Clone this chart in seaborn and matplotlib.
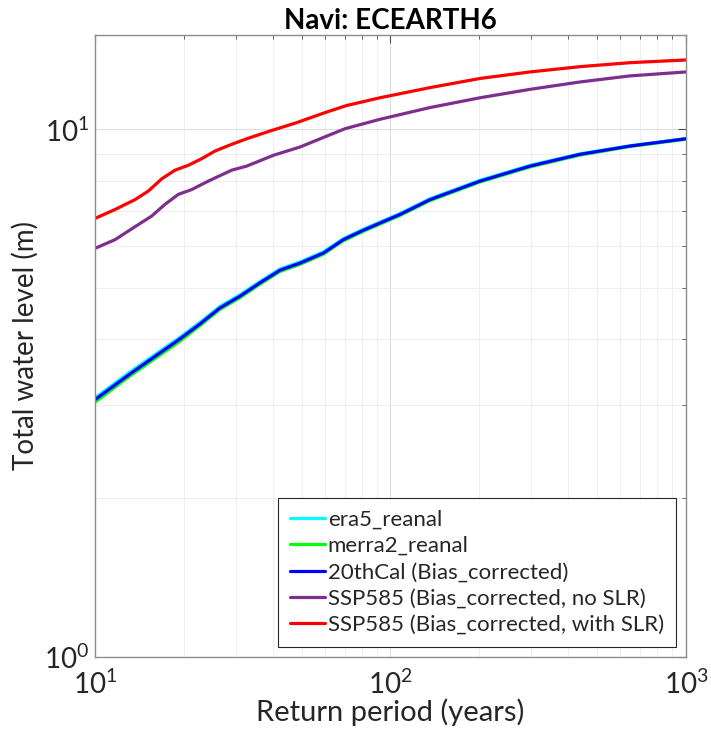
import numpy as np
import pandas as pd
import matplotlib
matplotlib.use("Agg")
import matplotlib.pyplot as plt
import seaborn as sns
from matplotlib.ticker import LogLocator, LogFormatterMathtext, NullFormatter

# ---- data ----
t_blue = [10, 13.13, 19.4, 22.67, 26.49, 30.95, 36.17, 42.27, 49.4, 59.25, 69.22, 80.9,
          97.1, 107.7, 136, 200.9, 296.6, 437.8, 646.4, 1000]
era5 = [3.10, 3.47, 4.04, 4.31, 4.62, 4.86, 5.15, 5.44, 5.61, 5.86, 6.21, 6.47,
        6.76, 6.93, 7.39, 8.01, 8.55, 8.99, 9.31, 9.61]
merra2 = [3.04, 3.41, 3.97, 4.25, 4.56, 4.80, 5.09, 5.38, 5.55, 5.80, 6.15, 6.41,
          6.70, 6.87, 7.33, 7.95, 8.49, 8.94, 9.28, 9.58]
cal20 = [3.075, 3.44, 4.01, 4.28, 4.59, 4.83, 5.12, 5.41, 5.58, 5.83, 6.18, 6.44,
         6.73, 6.90, 7.36, 7.98, 8.52, 8.97, 9.30, 9.60]

t_purple = [10, 11.69, 13.66, 15.55, 17.25, 19.14, 21.24, 24.18, 29.01, 32.62, 40.12,
            49.4, 60.83, 70.15, 92.1, 136, 200.9, 296.6, 437.8, 646.4, 1000]
ssp_noslr = [5.95, 6.18, 6.54, 6.85, 7.21, 7.53, 7.69, 7.98, 8.37, 8.52, 8.93,
             9.26, 9.71, 10.03, 10.45, 11.0, 11.48, 11.91, 12.30, 12.63, 12.85]

t_red = [10, 11.69, 13.66, 15.15, 16.82, 18.66, 20.69, 22.96, 25.48, 29.01, 32.62,
         39.1, 48.15, 60.03, 71.1, 92.1, 136, 200.9, 296.6, 437.8, 646.4, 1000]
ssp_slr = [6.78, 7.05, 7.36, 7.64, 8.06, 8.37, 8.55, 8.80, 9.10, 9.37, 9.60,
           9.93, 10.30, 10.76, 11.10, 11.48, 12.0, 12.49, 12.85, 13.15, 13.38, 13.54]

names = ["era5_reanal", "merra2_reanal", "20thCal (Bias_corrected)",
         "SSP585 (Bias_corrected, no SLR)", "SSP585 (Bias_corrected, with SLR)"]
colors = ["#00FFFF", "#00FF00", "#0000FF", "#7E2F8E", "#FF0000"]

frames = []
for name, tt, yy in zip(names,
                        [t_blue, t_blue, t_blue, t_purple, t_red],
                        [era5, merra2, cal20, ssp_noslr, ssp_slr]):
    frames.append(pd.DataFrame({"T": tt, "TWL": yy, "series": name}))
df = pd.concat(frames, ignore_index=True)

# ---- style ----
sns.set_style("white")
plt.rcParams["font.family"] = ["Lato", "DejaVu Sans"]
plt.rcParams["mathtext.default"] = "regular"

fig = plt.figure(figsize=(7.11, 7.44), dpi=100)
ax = fig.add_axes([0.1336, 0.1169, 0.8312, 0.8361])

sns.lineplot(data=df, x="T", y="TWL", hue="series", hue_order=names,
             palette=dict(zip(names, colors)), linewidth=2.3, ax=ax,
             sort=False, estimator=None)

ax.set_xscale("log")
ax.set_yscale("log")
ax.set_xlim(10, 1000)
ax.set_ylim(1, 15.1)

for a in (ax.xaxis, ax.yaxis):
    a.set_major_locator(LogLocator(base=10))
    a.set_minor_locator(LogLocator(base=10, subs=np.arange(2, 10)))
    a.set_major_formatter(LogFormatterMathtext())
    a.set_minor_formatter(NullFormatter())

ax.grid(True, which="major", color="#dcdcdc", linewidth=0.7)
ax.grid(True, which="minor", color="#ebebeb", linewidth=0.6, linestyle="-")
ax.set_axisbelow(True)

ax.tick_params(which="both", direction="in", top=True, right=True,
               colors="#4d4d4d", labelcolor="#262626", labelsize=20)
ax.tick_params(which="major", length=6, pad=4)
ax.tick_params(which="minor", length=3)
ax.tick_params(axis="x", which="major", pad=9)
for s in ax.spines.values():
    s.set_color("#8c8c8c")
    s.set_linewidth(1.0)

ax.set_xlabel("Return period (years)", fontsize=21, color="#262626", labelpad=0)
ax.set_ylabel("Total water level (m)", fontsize=20, color="#262626", labelpad=4)
ax.set_title("Navi: ECEARTH6", fontsize=20, fontweight="bold", color="black", pad=4)

leg = ax.legend(loc="lower right", fontsize=16, frameon=True, fancybox=False,
                edgecolor="#262626", framealpha=1, borderaxespad=0.45,
                handlelength=1.6, handletextpad=0.1, labelspacing=0.28,
                borderpad=0.55)
leg.get_frame().set_linewidth(0.8)

fig.savefig("out.png", dpi=100)
